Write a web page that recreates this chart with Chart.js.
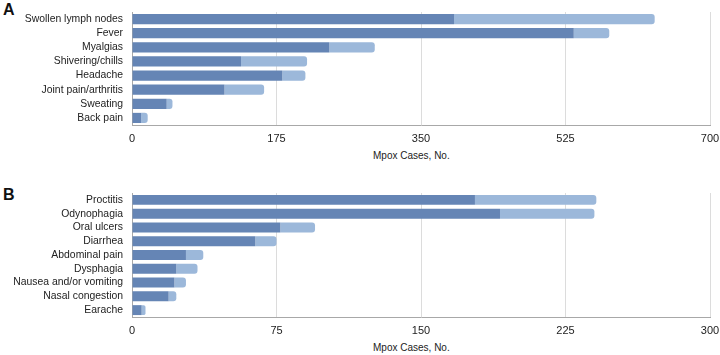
<!DOCTYPE html>
<html>
<head>
<meta charset="utf-8">
<script src="https://cdn.jsdelivr.net/npm/chart.js@4"></script>
<style>
  body { margin: 0; background: #fff; width: 720px; height: 355px; position: relative; overflow: hidden; font-family: 'Liberation Sans', Arial, sans-serif; }
  .panel { position: absolute; left: 0; }
  .tag { position: absolute; font-weight: bold; font-size: 16px; color: #111; }
  .axisTitle { position: absolute; font-size: 10px; color: #222; }
</style>
</head>
<body>
<div class="tag" style="left:3px; top:1px;">A</div>
<div class="panel" style="top:0px;"><canvas id="chartA" width="720" height="150"></canvas></div>
<div class="axisTitle" style="left:373px; top:150px;">Mpox Cases, No.</div>

<div class="tag" style="left:3px; top:186px;">B</div>
<div class="panel" style="top:181px;"><canvas id="chartB" width="720" height="161"></canvas></div>
<div class="axisTitle" style="left:373px; top:342px;">Mpox Cases, No.</div>

<script>
const symptomsA = ['Swollen lymph nodes', 'Fever', 'Myalgias', 'Shivering/chills', 'Headache', 'Joint pain/arthritis', 'Sweating', 'Back pain']
const darkA = [390, 535, 239, 132, 182, 112, 42, 11]
const lightA = [243, 43, 55, 80, 28, 48, 7, 8]
const ticksA = [0, 175, 350, 525, 700]

const symptomsB = ['Proctitis', 'Odynophagia', 'Oral ulcers', 'Diarrhea', 'Abdominal pain', 'Dysphagia', 'Nausea and/or vomiting', 'Nasal congestion', 'Earache']
const darkB = [178, 191, 77, 64, 28, 23, 22, 19, 5]
const lightB = [63, 49, 18, 11, 9, 11, 6, 4, 2]
const ticksB = [0, 75, 150, 225, 300]

const darkColor = '#6585B5'
const lightColor = '#9CB8DA'
const labelFont = "'Liberation Sans', Arial, sans-serif"

const makeChart = (id, labels, dark, light, ticks) => {
    const ctx = document.getElementById(id)
    const max = ticks[ticks.length - 1]

    return new Chart(ctx, {
        type: 'bar',
        data: {
            labels: labels,
            datasets: [
                {
                    data: dark,
                    backgroundColor: darkColor,
                    borderWidth: 0,
                    borderRadius: 3,
                    categoryPercentage: 1,
                    barPercentage: 0.72,
                },
                {
                    data: light,
                    backgroundColor: lightColor,
                    borderWidth: 0,
                    borderRadius: 3,
                    categoryPercentage: 1,
                    barPercentage: 0.72,
                }
            ]
        },
        options: {
            indexAxis: 'y',
            responsive: false,
            devicePixelRatio: 1,
            animation: false,
            layout: { padding: { top: 12, right: 10, left: 0, bottom: 0 } },
            scales: {
                x: {
                    stacked: true,
                    min: 0,
                    max: max,
                    afterBuildTicks: (axis) => { axis.ticks = ticks.map(v => ({ value: v })) },
                    grid: {
                        color: (c) => c.tick && c.tick.value === 0 ? 'rgba(0,0,0,0)' : '#dcdcdc',
                        drawTicks: false,
                    },
                    border: { color: '#a8a8a8', width: 1 },
                    ticks: {
                        padding: 7,
                        color: '#222',
                        font: { size: 11, family: labelFont },
                        maxRotation: 0,
                    },
                    afterFit: (axis) => {
                        axis.height = 25
                        axis.paddingLeft = 0
                        axis.paddingRight = 0
                    }
                },
                y: {
                    stacked: true,
                    grid: { display: false, drawTicks: false },
                    border: { color: '#a8a8a8', width: 1 },
                    ticks: {
                        padding: 9,
                        color: '#222',
                        font: { size: 10.4, family: labelFont },
                        autoSkip: false,
                    },
                    afterFit: (axis) => {
                        axis.width = 132
                        axis.paddingTop = 0
                        axis.paddingBottom = 0
                    }
                }
            },
            plugins: {
                legend: { display: false },
                tooltip: { enabled: false }
            }
        }
    })
}

makeChart('chartA', symptomsA, darkA, lightA, ticksA)
makeChart('chartB', symptomsB, darkB, lightB, ticksB)
</script>
</body>
</html>
